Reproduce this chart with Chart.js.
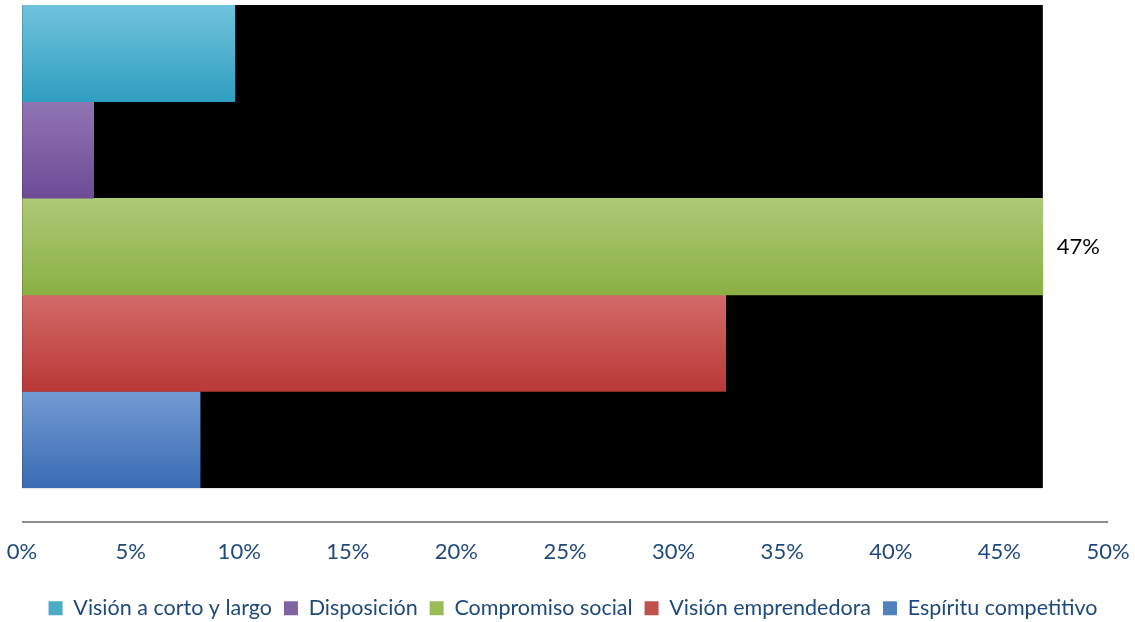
<!DOCTYPE html>
<html>
<head>
<meta charset="utf-8">
<script src="https://cdn.jsdelivr.net/npm/chart.js@4.4.1/dist/chart.umd.min.js"></script>
<style>
  html, body { margin: 0; padding: 0; background: #fff; }
  #wrap { width: 1135px; height: 622px; }
</style>
</head>
<body>
<div id="wrap"><canvas id="grafica"></canvas></div>
<script>
// datos
const series = ["Visión a corto y largo", "Disposición", "Compromiso social", "Visión emprendedora", "Espíritu competitivo"];
const valores = [9.8, 3.3, 47, 32.4, 8.2];
const etiquetas = ["10%", "3%", "47%", "32%", "8%"];
const ticksX = [0, 5, 10, 15, 20, 25, 30, 35, 40, 45, 50];

// colores (arriba, abajo, solido)
const coloresArriba = ["#70c3dc", "#9075b3", "#adc977", "#d26a69", "#729bd2"];
const coloresAbajo = ["#2f9ec0", "#6c4c97", "#8bb043", "#b93937", "#3a6cb3"];
const coloresSolidos = ["#4bacc6", "#8064a2", "#9bbb59", "#c0504d", "#4f81bd"];

const fuente = "Lato, 'Open Sans', sans-serif";

const canvas = document.getElementById("grafica");
const ctx = canvas.getContext("2d");

function degradado(i) {
  return function (c) {
    const chart = c.chart;
    const area = chart.chartArea;
    if (!area) return coloresSolidos[i];
    const h = (area.bottom - area.top) / series.length;
    const g = chart.ctx.createLinearGradient(0, area.top + i * h, 0, area.top + (i + 1) * h);
    g.addColorStop(0, coloresArriba[i]);
    g.addColorStop(1, coloresAbajo[i]);
    return g;
  };
}

const datasets = series.map((nombre, i) => ({
  label: nombre,
  data: [valores[i]],
  backgroundColor: degradado(i),
  borderWidth: 0,
  categoryPercentage: 1,
  barPercentage: 1,
}));

// fondo negro hasta la barra mas larga + linea del eje
const fondoPlugin = {
  id: "fondo",
  afterLayout(chart) {
    // la leyenda del original esta algo desplazada a la derecha
    chart.legend.left += 8;
    chart.legend.right += 8;
  },
  beforeDatasetsDraw(chart) {
    const { ctx, chartArea, scales } = chart;
    const x0 = scales.x.getPixelForValue(0);
    const x1 = scales.x.getPixelForValue(Math.max(...valores));
    ctx.save();
    ctx.fillStyle = "#000";
    ctx.fillRect(x0, chartArea.top, x1 - x0, chartArea.bottom - chartArea.top);
    ctx.strokeStyle = "#8c8c8c";
    ctx.lineWidth = 2;
    ctx.beginPath();
    ctx.moveTo(chartArea.left, chartArea.bottom + 34);
    ctx.lineTo(chartArea.right, chartArea.bottom + 34);
    ctx.stroke();
    ctx.restore();
  },
  afterDatasetsDraw(chart) {
    const { ctx } = chart;
    ctx.save();
    ctx.fillStyle = "#000";
    ctx.font = "22px " + fuente;
    ctx.textAlign = "left";
    ctx.textBaseline = "middle";
    chart.data.datasets.forEach((ds, i) => {
      const bar = chart.getDatasetMeta(i).data[0];
      ctx.fillText(etiquetas[i], bar.x + 14, bar.y);
    });
    ctx.restore();
  },
};

const grafico = new Chart(ctx, {
  type: "bar",
  data: { labels: [""], datasets: datasets },
  options: {
    indexAxis: "y",
    responsive: true,
    maintainAspectRatio: false,
    animation: false,
    layout: { padding: { top: 5, left: 22, right: 27, bottom: -7 } },
    scales: {
      y: { display: false },
      x: {
        type: "linear",
        min: 0,
        max: 50,
        afterBuildTicks: (axis) => { axis.ticks = ticksX.map((v) => ({ value: v })); },
        afterFit: (axis) => { axis.height += 15; },
        grid: { display: true, drawOnChartArea: false, drawTicks: true, tickLength: 46, color: "rgba(0,0,0,0)" },
        border: { display: false },
        ticks: {
          padding: 5,
          color: "#1f497d",
          font: { family: fuente, size: 22 },
          callback: (v) => v + "%",
        },
      },
    },
    plugins: {
      tooltip: { enabled: false },
      legend: {
        position: "bottom",
        labels: {
          color: "#1f497d",
          font: { family: fuente, size: 21.5 },
          boxWidth: 14,
          boxHeight: 14,
          padding: 12,
          generateLabels: (chart) => series.map((nombre, i) => ({
            text: nombre,
            fillStyle: coloresSolidos[i],
            strokeStyle: coloresSolidos[i],
            lineWidth: 0,
            fontColor: "#1f497d",
            datasetIndex: i,
          })),
        },
      },
    },
  },
  plugins: [fondoPlugin],
});
</script>
</body>
</html>
